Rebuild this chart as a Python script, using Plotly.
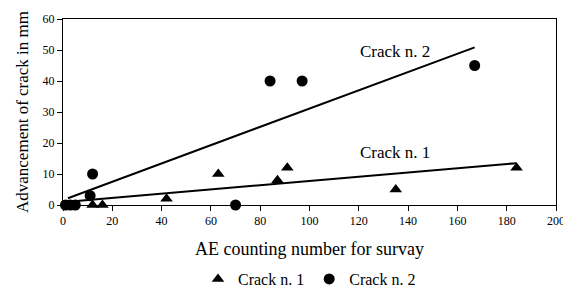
import plotly.graph_objects as go

# Data
crack1_x = [2, 12, 16, 42, 63, 87, 91, 135, 184]
crack1_y = [0, 0, 0, 2, 10, 8, 12, 5, 12]
crack2_x = [1, 3, 5, 11, 12, 70, 84, 97, 167]
crack2_y = [0, 0, 0, 3, 10, 0, 40, 40, 45]

# Linear trend lines (intercept, slope) and x extent
trend1 = [0.9, 0.0685]
trend1_x = [2, 184]
trend2 = [1.6, 0.295]
trend2_x = [2, 167]

x_ticks = [0, 20, 40, 60, 80, 100, 120, 140, 160, 180, 200]
y_ticks = [0, 10, 20, 30, 40, 50, 60]

font = "Liberation Serif"

fig = go.Figure()
fig.add_trace(go.Scatter(x=trend1_x, y=[trend1[0] + trend1[1] * v for v in trend1_x],
                         mode="lines", line=dict(color="black", width=2), showlegend=False))
fig.add_trace(go.Scatter(x=trend2_x, y=[trend2[0] + trend2[1] * v for v in trend2_x],
                         mode="lines", line=dict(color="black", width=2), showlegend=False))
fig.add_trace(go.Scatter(x=crack1_x, y=crack1_y, mode="markers", name="Crack n. 1",
                         marker=dict(symbol="triangle-up", size=11, color="black"), cliponaxis=False))
fig.add_trace(go.Scatter(x=crack2_x, y=crack2_y, mode="markers", name="Crack n. 2",
                         marker=dict(symbol="circle", size=11, color="black"), cliponaxis=False))

fig.add_annotation(x=134.7, y=49.4, text="Crack n. 2", showarrow=False,
                   font=dict(family=font, size=17, color="black"))
fig.add_annotation(x=134.7, y=16.8, text="Crack n. 1", showarrow=False,
                   font=dict(family=font, size=17, color="black"))

fig.update_layout(
    width=563, height=283,
    margin=dict(l=55, r=15, t=11, b=86, autoexpand=False),
    paper_bgcolor="white", plot_bgcolor="white",
    font=dict(family=font, size=12, color="black"),
    legend=dict(orientation="h", x=0.5, xanchor="center", y=-0.398, yanchor="middle",
                font=dict(family=font, size=16), itemwidth=30, tracegroupgap=0,
                bgcolor="rgba(0,0,0,0)"),
)
fig.update_xaxes(range=[0, 200], tickvals=x_ticks, showgrid=False, zeroline=False,
                 showline=True, linecolor="black", linewidth=1, mirror=True,
                 ticks="outside", ticklen=5, tickcolor="black",
                 title=dict(text="AE counting number for survay", font=dict(family=font, size=18), standoff=14))
fig.update_yaxes(range=[0, 60], tickvals=y_ticks, showgrid=False, zeroline=False,
                 showline=True, linecolor="black", linewidth=1, mirror=True,
                 ticks="outside", ticklen=5, tickcolor="black",
                 title=dict(text="Advancement of crack in mm", font=dict(family=font, size=17), standoff=9))

fig.write_html("out.html")
